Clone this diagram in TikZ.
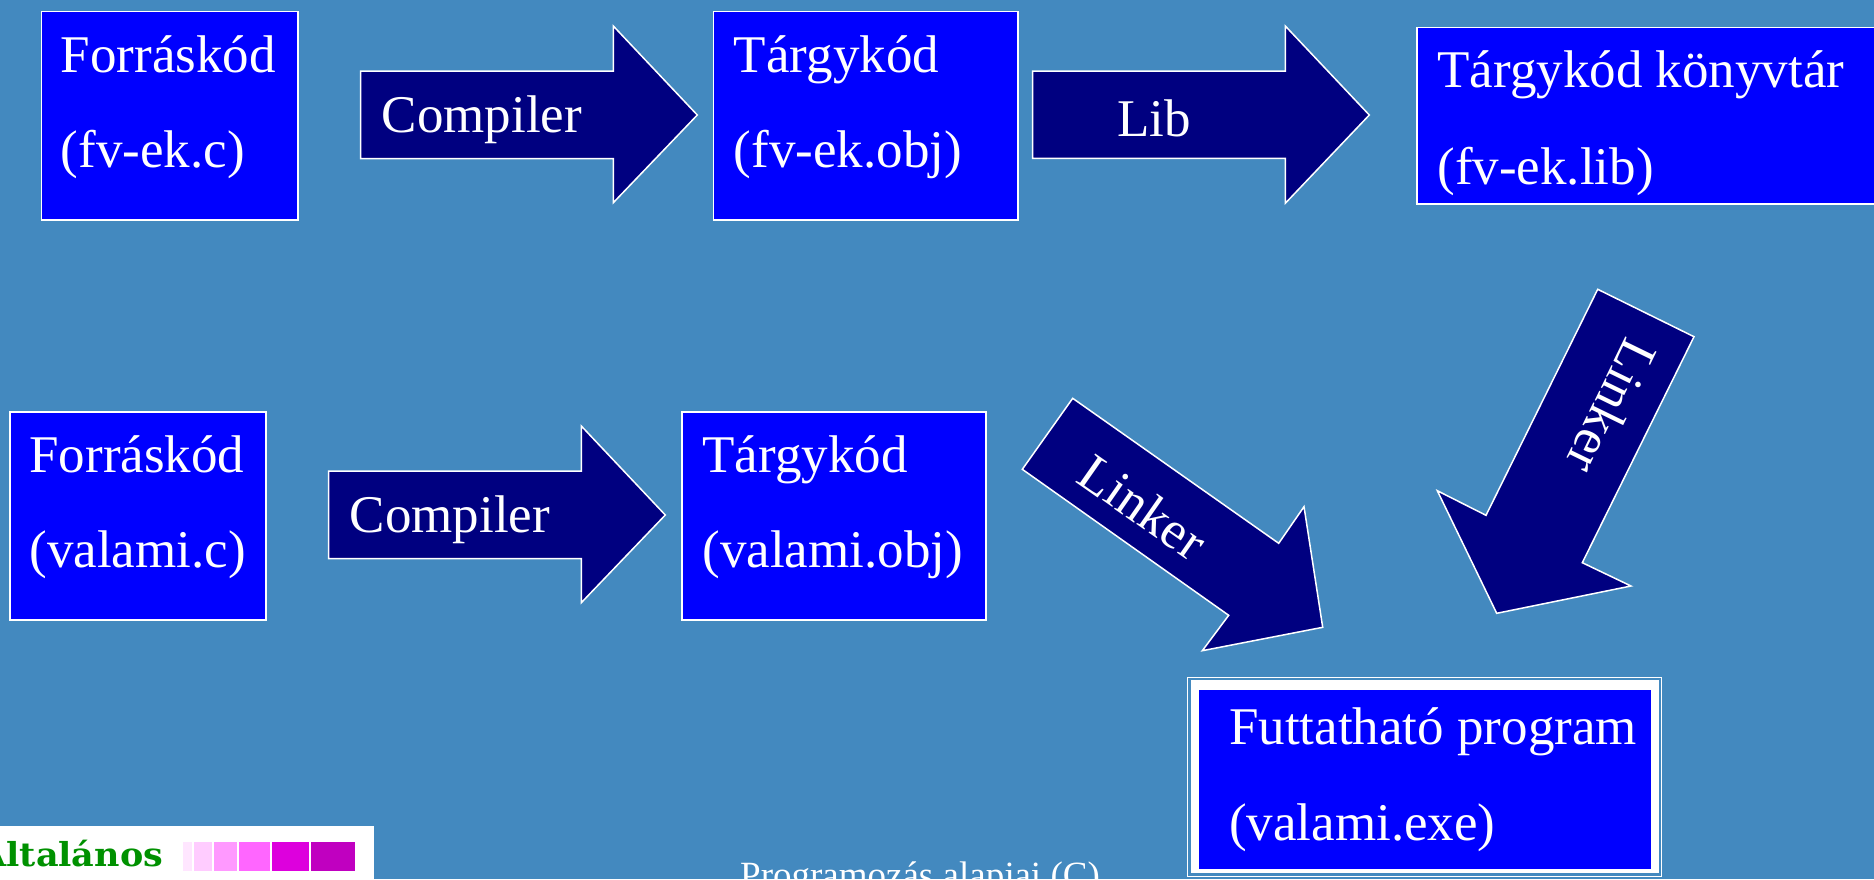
\documentclass[tikz,border=0pt]{standalone}
\usepackage{fontspec}
\setmainfont{Liberation Serif}
\newfontfamily\logofont{DejaVu Serif}
\definecolor{slide}{RGB}{67,137,191}
\definecolor{boxblue}{RGB}{0,0,255}
\definecolor{arrowblue}{RGB}{0,0,128}
\definecolor{logogreen}{RGB}{0,145,0}
\definecolor{pinkA}{RGB}{255,230,255}
\definecolor{pinkB}{RGB}{255,204,255}
\definecolor{pinkC}{RGB}{255,153,255}
\definecolor{pinkD}{RGB}{255,102,255}
\definecolor{pinkE}{RGB}{221,0,221}
\definecolor{pinkF}{RGB}{192,0,192}

\begin{document}
\begin{tikzpicture}[x=1pt,y=-1pt,
  stage/.style={draw=white, line width=1.5pt, fill=boxblue, inner sep=0pt,
                anchor=north west},
  blockarrow/.style={draw=white, line width=1.5pt, fill=arrowblue, line join=miter},
  big/.style={text=white, font=\fontsize{53}{60}\selectfont, inner sep=0pt},
  line/.style={big, anchor=base west},
]
\useasboundingbox (0,0) rectangle (1874,879);
\clip (0,0) rectangle (1874,879);
\fill[slide] (0,0) rectangle (1874,879);

% --- source, object and library boxes -----------------------------------
\node[stage, minimum width=256.6pt, minimum height=208.3pt] (src1) at (40.7,10.7) {};
\node[stage, minimum width=304.3pt, minimum height=208.3pt] (obj1) at (712.7,10.7) {};
\node[stage, minimum width=480pt,   minimum height=176.6pt] (lib)  at (1416,26.7) {};
\node[stage, minimum width=256pt,   minimum height=208pt]   (src2) at (9,411) {};
\node[stage, minimum width=304pt,   minimum height=208pt]   (obj2) at (681,411) {};

% --- executable: double white frame --------------------------------------
\draw[white, line width=1.3pt] (1187.8,677.2) rectangle (1661.8,876.3);
\fill[white] (1191,680.3) rectangle (1658.8,873.3);
\node[fill=boxblue, inner sep=0pt, anchor=north west,
      minimum width=451.7pt, minimum height=179pt] (exe) at (1199,689.3) {};

% --- block arrows ---------------------------------------------------------
\draw[blockarrow] (360.7,71) -- (613.3,71) -- (613.3,26) -- (697.3,115)
  -- (613.3,202.7) -- (613.3,158.7) -- (360.7,158.7) -- cycle;
\draw[blockarrow] (1032.7,71) -- (1285.3,71) -- (1285.3,26) -- (1369.3,115)
  -- (1285.3,203.3) -- (1285.3,158.3) -- (1032.7,158.3) -- cycle;
\draw[blockarrow] (328.7,471) -- (581.3,471) -- (581.3,426) -- (665.3,515)
  -- (581.3,602.7) -- (581.3,558.7) -- (328.7,558.7) -- cycle;
\draw[blockarrow] (1072.7,398.3) -- (1278.7,543.3) -- (1304,506.7) -- (1322.7,627.3)
  -- (1202.3,650.7) -- (1228.7,615.3) -- (1022.3,469.3) -- cycle;
\draw[blockarrow] (1597.7,289.3) -- (1694,336.7) -- (1582.3,562.7) -- (1631,586)
  -- (1496.7,613.3) -- (1437.3,490.7) -- (1486,515.3) -- cycle;

% --- box texts ------------------------------------------------------------
\node[line] (src1a) at (60.7,72.7)  {Forráskód};
\node[line] (src1b) at (60.7,167)   {(fv-ek.c)};
\node[line] (obj1a) at (733.7,72.7) {Tárgykód};
\node[line] (obj1b) at (733.7,167)  {(fv-ek.obj)};
\node[line] (liba)  at (1437.3,87.7) {Tárgykód könyvtár};
\node[line] (libb)  at (1437.3,184.5) {(fv-ek.lib)};
\node[line] (src2a) at (29.3,472.3) {Forráskód};
\node[line] (src2b) at (29.3,567.7) {(valami.c)};
\node[line] (obj2a) at (702.3,472.3) {Tárgykód};
\node[line] (obj2b) at (702.3,567.7) {(valami.obj)};
\node[line] (exea)  at (1229,744)   {Futtatható program};
\node[line] (exeb)  at (1229,840)   {(valami.exe)};

% --- arrow labels ---------------------------------------------------------
\node[line] (comp1) at (381.7,132.7) {Compiler};
\node[line] (libl)  at (1117.3,136)  {Lib};
\node[line] (comp2) at (349.7,532.7) {Compiler};
\node[big, rotate=-35]  (link1) at (1143,507) {Linker};
\node[big, rotate=-116] (link2) at (1612,407) {Linker};

% --- footer ---------------------------------------------------------------
\fill[white] (0,825.7) rectangle (374,890);
\node[anchor=base east, inner sep=0pt, text=logogreen, xscale=1.06,
      font=\logofont\bfseries\fontsize{33}{33}\selectfont] (logo) at (163.3,866.7) {Általános};
\fill[pinkA] (183.3,841.7) rectangle (191.7,871);
\fill[pinkB] (194,841.7) rectangle (212,871);
\fill[pinkC] (214,841.7) rectangle (236.7,871);
\fill[pinkD] (239,841.7) rectangle (270,871);
\fill[pinkE] (272.3,841.7) rectangle (309,871);
\fill[pinkF] (311,841.7) rectangle (355,871);
\node[anchor=base west, inner sep=0pt, text=white,
      font=\fontsize{37}{37}\selectfont] (title) at (740,887.5) {Programozás alapjai (C)};
\end{tikzpicture}
\end{document}
